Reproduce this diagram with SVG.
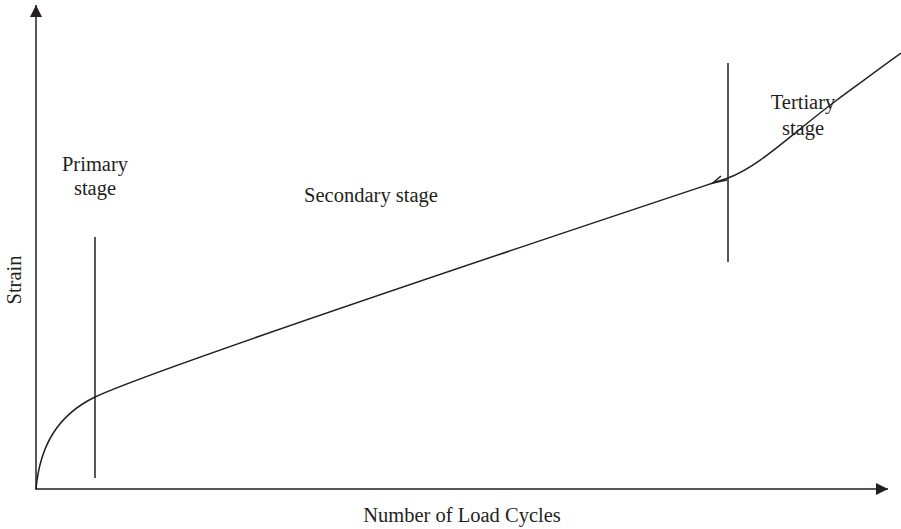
<svg xmlns="http://www.w3.org/2000/svg" width="901" height="529" viewBox="0 0 901 529">
<style>
.ln{fill:none;stroke:#231f20;stroke-width:1.5}
.ax{fill:none;stroke:#231f20;stroke-width:1.5}
.t{font-family:"Liberation Serif",serif;font-size:20.5px;fill:#231f20}
</style>
<defs>
<marker id="ah" viewBox="0 0 12 12" refX="12" refY="6" markerWidth="12" markerHeight="12" markerUnits="userSpaceOnUse" orient="auto">
<path d="M0,0 L12,6 L0,12 Z" fill="#231f20"/>
</marker>
</defs>
<rect width="901" height="529" fill="#ffffff"/>
<g id="axes">
<line class="ax" x1="36" y1="489.5" x2="36" y2="5" marker-end="url(#ah)"/>
<line class="ax" x1="35.5" y1="489" x2="888" y2="489" marker-end="url(#ah)"/>
</g>
<g id="connectors">
<path class="ln" d="M36,489 C40,445 58,415 95,397 C155,368 650,204 728,178 C760,166 790,135 837,100 C860,83 880,68 901,53"/>
<path class="ln" d="M721,176 L713,183 L727,180" stroke-width="1.2"/>
<line class="ln" x1="95" y1="237" x2="95" y2="478"/>
<line class="ln" x1="728" y1="63" x2="728" y2="262"/>
</g>
<g id="labels">
<text class="t" x="95" y="171" text-anchor="middle">Primary</text>
<text class="t" x="95" y="195" text-anchor="middle">stage</text>
<text class="t" x="371" y="202" text-anchor="middle">Secondary stage</text>
<text class="t" x="803" y="109" text-anchor="middle">Tertiary</text>
<text class="t" x="803" y="135" text-anchor="middle">stage</text>
<text class="t" x="462" y="522" text-anchor="middle">Number of Load Cycles</text>
<text class="t" x="0" y="0" text-anchor="middle" transform="translate(21,280) rotate(-90)">Strain</text>
</g>
</svg>
